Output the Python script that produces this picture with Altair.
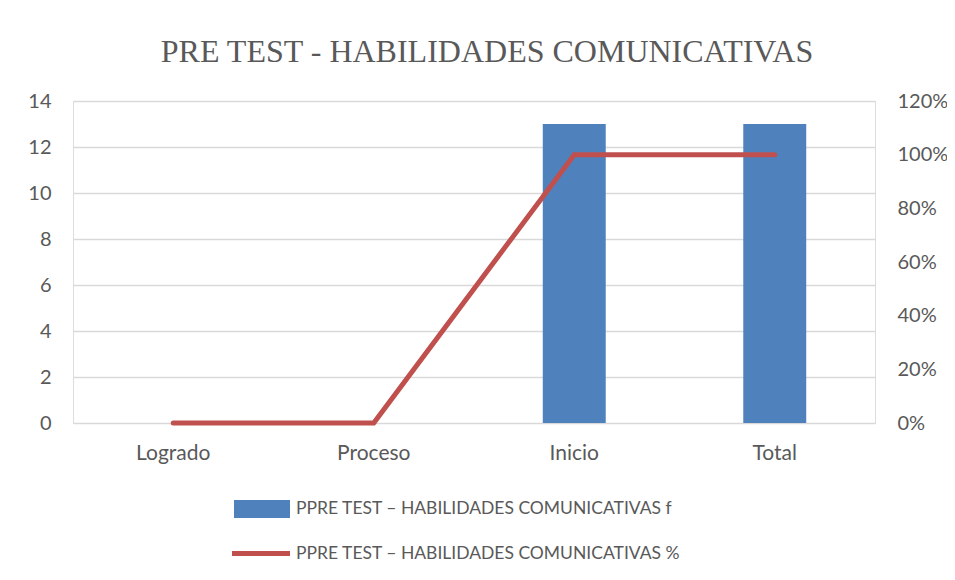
import altair as alt
import pandas as pd

categories = ["Logrado", "Proceso", "Inicio", "Total"]
freq = [0, 0, 13, 13]
pct = [0, 0, 1.0, 1.0]
series_f = "PPRE TEST – HABILIDADES COMUNICATIVAS f"
series_p = "PPRE TEST – HABILIDADES COMUNICATIVAS %"
title_text = "PRE TEST - HABILIDADES COMUNICATIVAS"
left_ticks = [0, 2, 4, 6, 8, 10, 12, 14]
right_ticks = [0, 0.2, 0.4, 0.6, 0.8, 1.0, 1.2]

df = pd.DataFrame({
    "cat": categories,
    "f": freq,
    "pct": pct,
    "sf": [series_f] * len(categories),
    "sp": [series_p] * len(categories),
})

LABEL_FONT = "Lato"
GRAY = "#595959"

xenc = alt.X(
    "cat:N",
    sort=categories,
    scale=alt.Scale(paddingInner=0.686, paddingOuter=0.343),
    axis=alt.Axis(title=None, labelAngle=0, ticks=False, domain=False, grid=False,
                  labelFont=LABEL_FONT, labelFontSize=21, labelColor=GRAY,
                  labelPadding=19),
)

bars = alt.Chart(df).mark_bar().encode(
    x=xenc,
    y=alt.Y("f:Q", scale=alt.Scale(domain=[0, 14], nice=False),
            axis=alt.Axis(title=None, values=left_ticks, ticks=False, domain=False,
                          gridColor="#d9d9d9", gridWidth=1.5,
                          labelFont=LABEL_FONT, labelFontSize=20, labelColor=GRAY,
                          labelPadding=22)),
    fill=alt.Fill("sf:N", scale=alt.Scale(range=["#4f81bd"]),
                  legend=alt.Legend(title=None, orient="none", legendX=161, legendY=380,
                                    padding=0,
                                    symbolType="M-1,-0.32H1V0.32H-1Z", symbolSize=3136,
                                    symbolStrokeWidth=0, symbolOpacity=1,
                                    labelFont=LABEL_FONT, labelFontSize=17.5, labelColor=GRAY,
                                    labelOffset=6, labelLimit=600)),
)

line = alt.Chart(df).mark_line(strokeWidth=5, strokeCap="round").encode(
    x=xenc,
    y=alt.Y("pct:Q", scale=alt.Scale(domain=[0, 1.2], nice=False),
            axis=alt.Axis(title=None, orient="right", values=right_ticks, format=".0%",
                          ticks=False, domain=False, grid=False,
                          labelFont=LABEL_FONT, labelFontSize=20, labelColor=GRAY,
                          labelPadding=22)),
    stroke=alt.Stroke("sp:N", scale=alt.Scale(range=["#c0504d"]),
                      legend=alt.Legend(title=None, orient="none", legendX=156.5, legendY=421,
                                        padding=0,
                                        symbolType="M-1,0H1", symbolSize=3364,
                                        symbolStrokeWidth=5, symbolOpacity=1,
                                        labelFont=LABEL_FONT, labelFontSize=17.5, labelColor=GRAY,
                                        labelOffset=3.5, labelLimit=600)),
)

chart = alt.layer(bars, line).resolve_scale(y="independent", fill="independent", stroke="independent").properties(
    width=802,
    height=322,
    autosize="none",
    padding={"left": 65, "top": 93, "right": 72, "bottom": 149},
    title=alt.Title(title_text, font="Liberation Serif", fontSize=32, fontWeight="normal",
                    color=GRAY, anchor="middle", offset=22, dx=13),
).configure_view(
    stroke="transparent", strokeWidth=0
).configure_axis(
    domain=False, ticks=False
).configure(background="white")

chart.save("out.html", embed_options={"renderer": "svg", "actions": False})
